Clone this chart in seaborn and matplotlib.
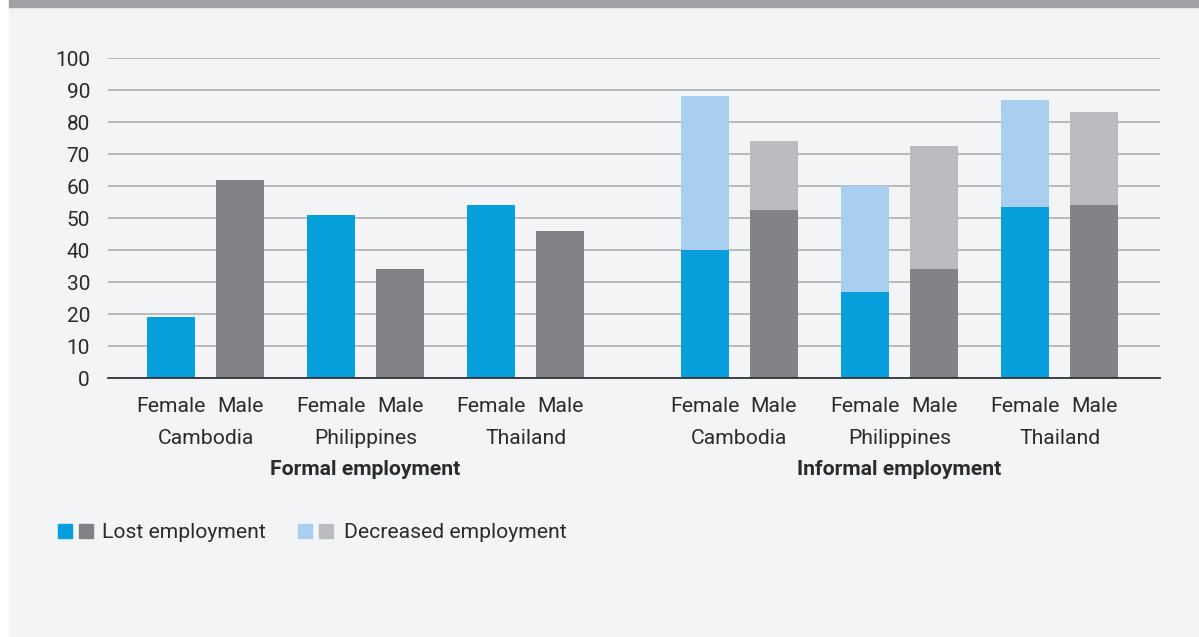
import numpy as np
import pandas as pd
import seaborn as sns
import matplotlib.pyplot as plt
from matplotlib.patches import Rectangle
from matplotlib.transforms import blended_transform_factory

# Data (percent)
countries = ["Cambodia", "Philippines", "Thailand"]
sexes = ["Female", "Male"]
sections = ["Formal employment", "Informal employment"]

formal_lost_female = [19, 51, 54]
formal_lost_male = [62, 34, 46]
informal_lost_female = [40, 27, 53.5]
informal_lost_male = [52.5, 34, 54]
informal_total_female = [88, 60, 87]
informal_total_male = [74, 72.5, 83]

# Colours
blue = "#079fdb"
dark_grey = "#818285"
light_blue = "#a8cfef"
light_grey = "#bbbcbf"
bg = "#f3f4f6"
band = "#a0a1a4"
grid_col = "#aaaaac"
text_col = "#2b2b2b"

# Build a long table; x positions come from indices
pair_step = 1.0
group_step = 2.32
section_gap = 0.78

lost = {("Formal employment", "Female"): formal_lost_female,
        ("Formal employment", "Male"): formal_lost_male,
        ("Informal employment", "Female"): informal_lost_female,
        ("Informal employment", "Male"): informal_lost_male}
total = {("Formal employment", "Female"): formal_lost_female,
         ("Formal employment", "Male"): formal_lost_male,
         ("Informal employment", "Female"): informal_total_female,
         ("Informal employment", "Male"): informal_total_male}

rows = []
for s_i, sec in enumerate(sections):
    for c_i, country in enumerate(countries):
        for x_i, sex in enumerate(sexes):
            pos = s_i * (len(countries) * group_step + section_gap) + c_i * group_step + x_i * pair_step
            rows.append({"section": sec, "country": country, "sex": sex, "pos": pos,
                         "lost": lost[(sec, sex)][c_i], "total": total[(sec, sex)][c_i]})
df = pd.DataFrame(rows)

sns.set_style("white")
plt.rcParams['font.family'] = ['Roboto', 'DejaVu Sans']

W, H = 1199, 637
fig = plt.figure(figsize=(W / 100, H / 100), dpi=100, facecolor="white")
fig.patches.append(Rectangle((9 / W, 0), 1, 1 - 7 / H, transform=fig.transFigure,
                             color=bg, zorder=-10))
fig.patches.append(Rectangle((9 / W, 1 - 7 / H), 1, 7 / H, transform=fig.transFigure,
                             color=band, zorder=-10))

ax = fig.add_axes([108 / W, 1 - 378 / H, (1160 - 108) / W, 320 / H])
ax.patch.set_visible(False)

# decreased (total) first, lost drawn on top of it
sns.barplot(data=df, x="pos", y="total", hue="sex", palette={"Female": light_blue, "Male": light_grey},
            native_scale=True, dodge=False, width=0.7, saturation=1, errorbar=None,
            legend=False, linewidth=0, ax=ax)
sns.barplot(data=df, x="pos", y="lost", hue="sex", palette={"Female": blue, "Male": dark_grey},
            native_scale=True, dodge=False, width=0.7, saturation=1, errorbar=None,
            legend=False, linewidth=0, ax=ax)

ax.set_ylim(0, 100)
ax.set_xlim(df.pos.min() - 63 / 69, df.pos.max() + 66 / 69)
ax.set_yticks(range(0, 101, 10))
ax.yaxis.grid(True, color=grid_col, lw=1.1)
ax.set_axisbelow(True)
for side in ["top", "right", "left"]:
    ax.spines[side].set_visible(False)
ax.spines["bottom"].set_color("#333333")
ax.spines["bottom"].set_linewidth(1.3)
ax.spines["bottom"].set_zorder(5)

ax.set_xticks(df.pos)
ax.set_xticklabels(df.sex)
ax.tick_params(axis="y", length=0, pad=13, labelsize=15, labelcolor=text_col)
ax.tick_params(axis="x", length=0, pad=13.5, labelsize=15.2, labelcolor=text_col)
ax.set_xlabel("")
ax.set_ylabel("")

trans = blended_transform_factory(ax.transData, ax.transAxes)
for (sec, country), g in df.groupby(["section", "country"]):
    ax.text(g.pos.mean(), -0.19, country, transform=trans, ha="center", va="center",
            fontsize=15.2, color=text_col)
for sec, g in df.groupby("section"):
    ax.text(g.pos.mean(), -0.287, sec, transform=trans, ha="center", va="center",
            fontsize=15.2, fontweight="bold", color=text_col)

# Legend: two swatches per entry
def swatch(x, color):
    fig.patches.append(Rectangle((x / W, 1 - 538 / H), 14 / W, 14 / H,
                                 transform=fig.transFigure, color=color))

swatch(58, blue)
swatch(79, dark_grey)
fig.text(102 / W, 1 - 533 / H, "Lost employment", ha="left", va="center", fontsize=15.2, color=text_col)
swatch(298, light_blue)
swatch(319, light_grey)
fig.text(344 / W, 1 - 533 / H, "Decreased employment", ha="left", va="center", fontsize=15.2, color=text_col)

fig.savefig("out.png", dpi=100, facecolor=fig.get_facecolor())
